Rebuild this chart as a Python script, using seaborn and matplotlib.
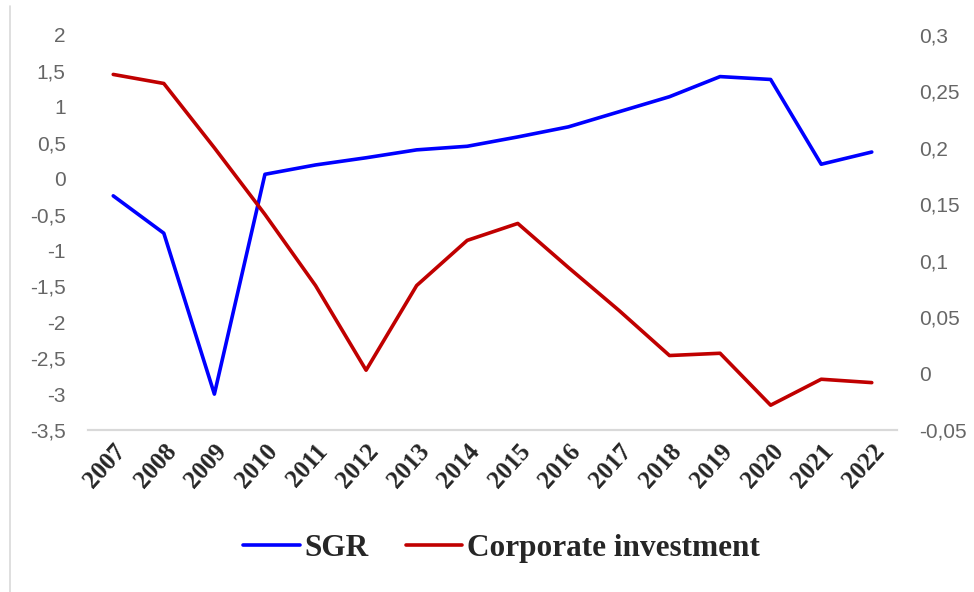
import pandas as pd
import matplotlib.pyplot as plt
import seaborn as sns
from matplotlib.ticker import FuncFormatter

# values
years = [2007, 2008, 2009, 2010, 2011, 2012, 2013, 2014,
         2015, 2016, 2017, 2018, 2019, 2020, 2021, 2022]
sgr = [-0.24, -0.76, -3.0, 0.06, 0.19, 0.29, 0.40, 0.45,
       0.58, 0.72, 0.93, 1.14, 1.42, 1.38, 0.20, 0.37]
corp_inv = [0.265, 0.257, 0.200, 0.141, 0.078, 0.003, 0.078, 0.118,
            0.133, 0.094, 0.056, 0.016, 0.018, -0.028, -0.005, -0.008]

data = pd.DataFrame({'Year': years, 'SGR': sgr, 'Corporate investment': corp_inv})
data['pos'] = range(len(data))

sns.set_style("white")

fig = plt.figure(figsize=(9.74, 5.92), dpi=100)
ax = fig.add_axes([0.0903, 0.2736, 0.8307, 0.6674])
ax2 = ax.twinx()

sns.lineplot(x='pos', y='SGR', data=data, ax=ax, color='#0000ff', linewidth=2.6, label='SGR', legend=False)
sns.lineplot(x='pos', y='Corporate investment', data=data, ax=ax2, color='#c00000', linewidth=2.6,
             label='Corporate investment', legend=False)


def comma_fmt(v, p):
    v = round(v, 3) + 0.0
    if abs(v) < 1e-9:
        v = 0.0
    return ('%g' % v).replace('.', ',')


comma = FuncFormatter(comma_fmt)

ax.set_xlim(-0.5, len(years) - 0.5)
ax.set_ylim(-3.5, 2)
ax.set_yticks([2 - 0.5 * i for i in range(12)])
ax.yaxis.set_major_formatter(comma)
ax2.set_ylim(-0.05, 0.3)
ax2.set_yticks([0.3 - 0.05 * i for i in range(8)])
ax2.yaxis.set_major_formatter(comma)

ax.set_xticks(data['pos'])
ax.set_xticklabels(years, rotation=48, ha='right', rotation_mode='anchor',
                   fontfamily='Liberation Serif', fontweight='bold', fontsize=18)
ax.tick_params(axis='x', length=0, pad=7)
ax.tick_params(axis='y', length=0, pad=16, labelsize=15, labelcolor='#666666')
ax2.tick_params(axis='y', length=0, pad=16, labelsize=15, labelcolor='#666666')
for lab in ax.get_yticklabels() + ax2.get_yticklabels():
    lab.set_fontfamily('Liberation Sans')

ax.set_xlabel('')
ax.set_ylabel('')
ax2.set_ylabel('')
for a in (ax, ax2):
    for s in ['top', 'left', 'right']:
        a.spines[s].set_visible(False)
    a.spines['bottom'].set_color('#d9d9d9')
    a.spines['bottom'].set_linewidth(1.5)

# thin frame line on the left edge of the picture
fig.add_artist(plt.Line2D([0.0105, 0.0105], [0.0, 0.99], color='#d9d9d9', linewidth=1.2))

h1, l1 = ax.get_legend_handles_labels()
h2, l2 = ax2.get_legend_handles_labels()
fig.legend(h1 + h2, l1 + l2, loc='center', bbox_to_anchor=(0.515, 0.074), ncol=2, frameon=False,
           prop={'family': 'Liberation Serif', 'weight': 'bold', 'size': 22.5},
           handlelength=1.8, handletextpad=0.15, columnspacing=1.2)

plt.savefig('out.png', dpi=100)
